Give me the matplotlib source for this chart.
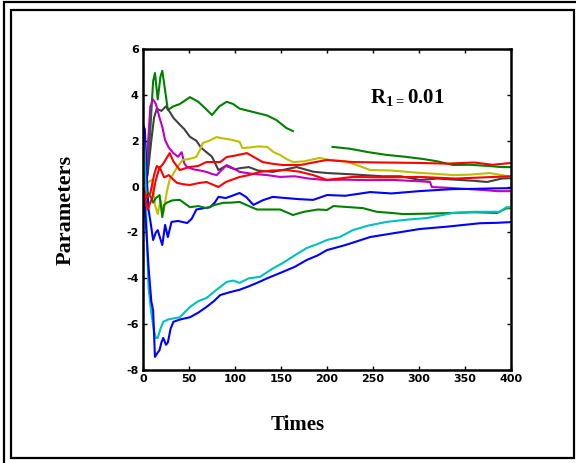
import numpy as np
import matplotlib
matplotlib.use("Agg")
import matplotlib.pyplot as plt
from matplotlib.patches import Rectangle

nan = np.nan

# parameter estimates
t_green_hi = [0, 4, 8, 11, 13, 16, 19, 21, 24, 27, 33, 40, 51, 60, 68, 75, 83, 91, 98, 105,
              115, 125, 135, 145, 156, 163, nan, 206, 225, 245, 265, 285, 305, 320, 337, 355, 375, 390, 400]
v_green_hi = [0, 0.3, 2.5, 4.6, 4.95, 3.8, 4.8, 5.05, 4.2, 3.34, 3.5, 3.6, 3.9, 3.7, 3.4, 3.12, 3.5, 3.7, 3.6, 3.4,
              3.3, 3.2, 3.1, 2.9, 2.55, 2.42, nan, 1.73, 1.65, 1.5, 1.38, 1.3, 1.2, 1.1, 0.94, 0.95, 0.9, 0.85, 0.85]

t_gray = [0, 5, 9, 12, 15, 20, 25, 30, 33, 40, 45, 51, 58, 63, 69, 75, 82, 90, 100, 105, 115, 125, 141,
          155, 167, 185, 200, 220, 240, 260, 280, 301, 320, 340, 360, 374, 390, 400]
v_gray = [0, 0.5, 2.0, 3.0, 3.4, 3.3, 3.5, 3.2, 3.0, 2.7, 2.5, 2.17, 2.0, 1.7, 1.5, 1.3, 0.72, 0.9, 0.75, 0.8, 0.85, 0.7, 0.64,
          0.75, 0.85, 0.65, 0.59, 0.55, 0.5, 0.45, 0.45, 0.29, 0.35, 0.3, 0.25, 0.2, 0.35, 0.37]

t_mag = [0, 4, 8, 11, 14, 18, 21, 24, 28, 33, 38, 42, 45, 48, 55, 62, 69, 75, 80, 85, 91, 98, 105, 120, 135, 149,
         165, 180, 198, 220, 245, 272, 290, 305, 312, 314, 330, 350, 370, 385, 400]
v_mag = [0, 1.0, 3.5, 3.8, 3.6, 3.0, 2.6, 2.03, 1.7, 1.46, 1.3, 1.5, 1.0, 0.85, 0.75, 0.7, 0.64, 0.55, 0.5, 0.7, 0.94, 0.8, 0.64, 0.55, 0.5, 0.42,
         0.45, 0.35, 0.29, 0.3, 0.28, 0.29, 0.25, 0.22, 0.2, -0.02, -0.05, -0.1, -0.15, -0.2, -0.2]

t_yel = [0, 6, 10, 13, 16, 19, 22, 26, 29, 35, 43, 50, 58, 62, 65, 72, 80, 87, 95, 105, 108, 115, 125, 135, 142, 149,
         156, 163, 175, 192, 203, 220, 235, 247, 270, 300, 320, 337, 355, 377, 390, 400]
v_yel = [0, 0.2, 0.3, -0.8, -1.2, -0.6, -1.15, -0.2, 0.3, 0.7, 1.16, 1.2, 1.29, 1.6, 1.9, 2.0, 2.16, 2.1, 2.05, 1.95, 1.68, 1.7, 1.75, 1.73, 1.5, 1.38,
         1.2, 1.07, 1.1, 1.25, 1.16, 1.1, 0.9, 0.72, 0.7, 0.6, 0.55, 0.5, 0.52, 0.59, 0.5, 0.42]

t_red1 = [0, 4, 8, 12, 15, 18, 22, 25, 29, 33, 40, 50, 60, 69, 84, 91, 100, 113, 120, 130, 140, 152, 171, 185, 200,
          228, 260, 301, 330, 360, 380, 400]
v_red1 = [0, -0.5, -0.28, 0.5, 0.9, 0.8, 1.0, 1.2, 1.46, 1.1, 0.72, 0.85, 0.9, 1.07, 1.07, 1.29, 1.35, 1.46, 1.3, 1.07, 1.0, 0.94, 0.94, 1.05, 1.16,
          1.07, 1.05, 1.03, 1.0, 1.05, 0.95, 1.03]

t_red2 = [0, 5, 10, 14, 18, 23, 28, 33, 37, 44, 51, 60, 69, 75, 82, 90, 105, 115, 127, 140, 156, 170, 185, 200,
          228, 260, 301, 340, 370, 400]
v_red2 = [0, -1.0, -0.5, 0.3, 0.85, 0.4, 0.5, 0.3, 0.16, 0.1, 0.07, 0.15, 0.2, 0.1, -0.02, 0.2, 0.42, 0.5, 0.64, 0.7, 0.72, 0.65, 0.5, 0.29,
          0.42, 0.4, 0.42, 0.35, 0.4, 0.45]

t_blu1 = [0, 2, 4, 6, 8, 11, 14, 16, 19, 21, 24, 27, 31, 38, 48, 53, 58, 65, 73, 78, 82, 90, 97, 105, 112, 120,
          130, 141, 155, 170, 185, 200, 220, 247, 270, 300, 320, 337, 360, 380, 400]
v_blu1 = [2.7, 2.5, 0.5, -1.0, -1.5, -2.33, -2.0, -1.9, -2.3, -2.55, -1.67, -2.2, -1.54, -1.5, -1.59, -1.4, -1.0, -0.95, -0.9, -0.7, -0.45, -0.5, -0.4, -0.28, -0.45, -0.8,
          -0.6, -0.45, -0.5, -0.55, -0.58, -0.37, -0.4, -0.24, -0.3, -0.2, -0.15, -0.11, -0.1, -0.08, -0.07]

t_blu2 = [0, 3, 6, 9, 11, 13, 15, 18, 20, 22, 25, 27, 30, 33, 40, 51, 60, 69, 77, 84, 95, 105, 115, 124, 135, 149,
          165, 178, 190, 200, 220, 247, 270, 301, 330, 366, 385, 400]
v_blu2 = [0, -1.5, -3.5, -5.0, -5.4, -7.43, -7.3, -7.13, -6.8, -6.6, -6.9, -6.8, -6.2, -5.9, -5.8, -5.7, -5.5, -5.25, -5.0, -4.73, -4.6, -4.5, -4.35, -4.2, -4.0, -3.77,
          -3.5, -3.2, -3.0, -2.77, -2.55, -2.2, -2.05, -1.85, -1.75, -1.6, -1.58, -1.55]

t_cyan = [0, 2, 4, 6, 9, 12, 14, 16, 19, 22, 27, 33, 40, 51, 60, 69, 80, 91, 98, 105, 115, 127, 140, 152, 165,
          178, 190, 200, 214, 228, 245, 265, 285, 309, 337, 360, 388, 395, 400]
v_cyan = [2.4, 1.5, -2.0, -4.4, -5.5, -6.3, -6.6, -6.6, -6.2, -5.9, -5.8, -5.75, -5.7, -5.25, -5.0, -4.86, -4.5, -4.16, -4.1, -4.2, -4.0, -3.94, -3.6, -3.33, -3.0,
          -2.68, -2.5, -2.33, -2.2, -1.9, -1.7, -1.54, -1.45, -1.37, -1.15, -1.1, -1.1, -0.9, -0.9]

t_grn2 = [0, 3, 6, 9, 11, 14, 18, 21, 23, 26, 32, 40, 51, 60, 69, 78, 87, 96, 105, 115, 124, 135, 149, 163, 175,
          190, 200, 207, 225, 239, 254, 270, 283, 310, 337, 360, 385, 395, 400]
v_grn2 = [0, -0.15, -0.3, -0.5, -0.7, -0.5, -0.37, -1.33, -0.8, -0.7, -0.6, -0.58, -0.9, -0.85, -0.94, -0.8, -0.71, -0.7, -0.67, -0.85, -1.0, -1.0, -1.0, -1.24, -1.1,
          -1.0, -1.02, -0.85, -0.9, -0.94, -1.1, -1.15, -1.2, -1.18, -1.15, -1.12, -1.15, -0.95, -0.94]

xticks = [0, 50, 100, 150, 200, 250, 300, 350, 400]
yticks = [-8, -6, -4, -2, 0, 2, 4, 6]

plt.rcParams['mathtext.fontset'] = 'custom'
plt.rcParams['mathtext.bf'] = 'Liberation Serif:bold'
plt.rcParams['mathtext.rm'] = 'Liberation Serif'

fig = plt.figure(figsize=(5.76, 4.63), dpi=100)
W, H = 576, 463

# double frame around the whole picture
fig.patches.append(Rectangle((4 / W, 1 - 466 / H), 580 / W, 464 / H, transform=fig.transFigure,
                             fill=False, lw=1.6, ec='black'))
fig.patches.append(Rectangle((11 / W, 1 - 458 / H), 563 / W, 448 / H, transform=fig.transFigure,
                             fill=False, lw=1.6, ec='black'))

ax = fig.add_axes([143 / W, 1 - 370 / H, 368 / W, 321 / H])

lw = 1.5
ax.plot(t_green_hi, v_green_hi, color='#008000', lw=lw)
ax.plot(t_gray, v_gray, color='#404040', lw=lw)
ax.plot(t_mag, v_mag, color='#c000c0', lw=lw)
ax.plot(t_yel, v_yel, color='#bfbf00', lw=lw)
ax.plot(t_blu1, v_blu1, color='#0000ff', lw=lw)
ax.plot(t_grn2, v_grn2, color='#008000', lw=lw)
ax.plot(t_cyan, v_cyan, color='#00c0c0', lw=lw)
ax.plot(t_blu2, v_blu2, color='#0000ff', lw=lw)
ax.plot(t_red1, v_red1, color='#ff0000', lw=lw)
ax.plot(t_red2, v_red2, color='#ff0000', lw=lw)

ax.set_xlim(0, 400)
ax.set_ylim(-8, 6)
ax.set_xticks(xticks)
ax.set_yticks(yticks)
ax.tick_params(direction='in', top=True, right=True, length=3, width=1, pad=3)
tickfont = dict(family=['Liberation Sans Narrow', 'DejaVu Sans'], weight='bold', size=8)
ax.set_xticklabels([str(v) for v in xticks], **tickfont)
ax.set_yticklabels([str(v) for v in yticks], **tickfont)
for s in ax.spines.values():
    s.set_linewidth(1.8)

fig.text(298 / W, 1 - 425 / H, 'Times', ha='center', va='center',
         family='Liberation Serif', weight='bold', size=15)
fig.text(66 / W, 1 - 210 / H, 'Parameters', ha='center', va='center', rotation=90,
         family='Liberation Serif', weight='bold', size=16)
ax.text(370 / W, 1 - 97 / H, r'$\mathbf{R_{1=}0.01}$', transform=fig.transFigure,
        ha='left', va='center', size=15)

fig.savefig('out.png', dpi=100)
